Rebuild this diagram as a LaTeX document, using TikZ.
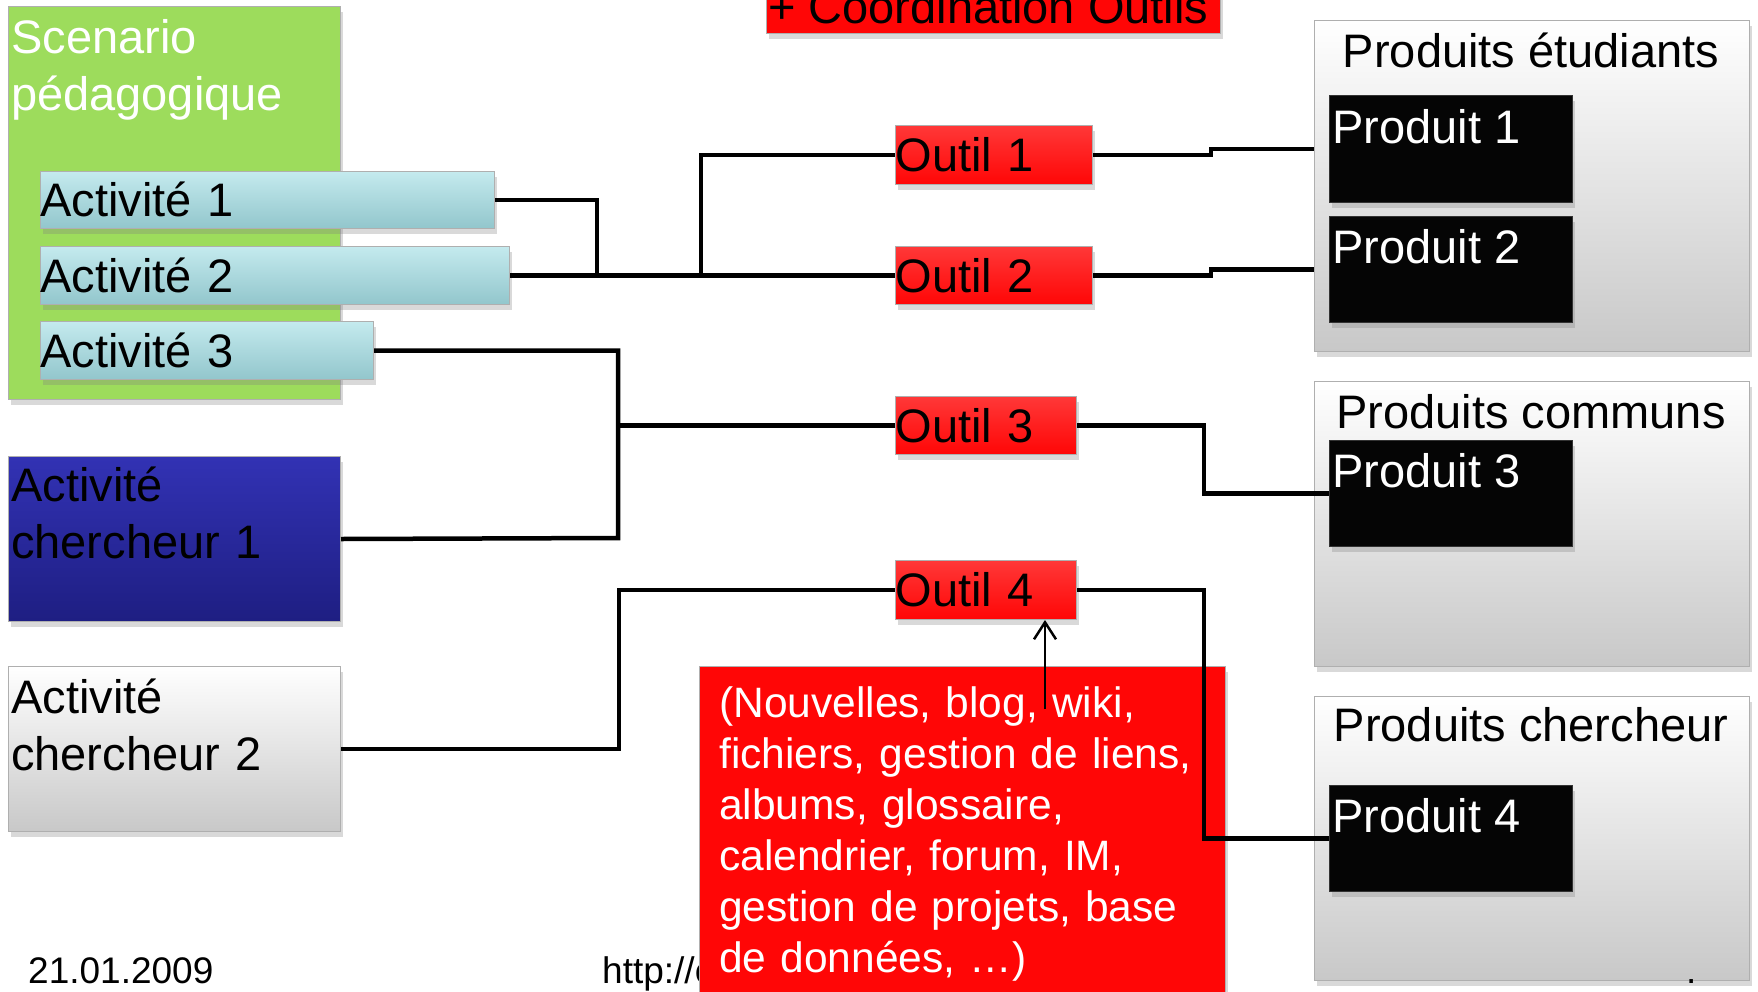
\documentclass[tikz,border=0pt]{standalone}
\usepackage{fontspec}
\setmainfont{Liberation Sans}
\usetikzlibrary{shadows,arrows.meta}
\definecolor{scengreen}{RGB}{157,220,92}
\definecolor{actlight}{RGB}{196,234,238}
\definecolor{actdark}{RGB}{146,198,204}
\definecolor{cherblue}{RGB}{50,50,180}
\definecolor{cherdark}{RGB}{30,30,130}
\definecolor{boxline}{RGB}{175,175,175}
\definecolor{greydark}{RGB}{200,200,200}
\definecolor{slidered}{RGB}{255,6,6}
\newcommand\slidefont{\fontsize{47}{57}\selectfont}
\newcommand\smallslide{\fontsize{37}{44}\selectfont}
\begin{document}
\begin{tikzpicture}[x=1pt,y=-1pt,
  box/.style={anchor=north west, inner sep=0pt, draw=boxline, line width=1pt,
    drop shadow={opacity=.3, shadow xshift=2pt, shadow yshift=-5pt}},
  actbox/.style={box, top color=actlight, bottom color=actdark, align=left,
    text height=33pt, text depth=0pt, font=\slidefont},
  outil/.style={box, top color=slidered!80!white, bottom color=slidered,
    align=left, text height=33pt, text depth=0pt, font=\slidefont},
  greybox/.style={box, top color=white, middle color=white!94!gray, bottom color=greydark},
  prod/.style={box, draw=black!80, fill=black!98},
  lbl/.style={inner sep=0pt, anchor=base west, font=\slidefont, align=left},
  wire/.style={line width=4.5pt}]
\clip (0,0) rectangle (1758,991);
% scenario + activites
\node[box, fill=scengreen, minimum width=332pt, minimum height=393pt] (scen) at (8,6) {};
\node[lbl, text=white, text width=320pt] (scen-t) at (11,53) {Scenario\\pédagogique};
\node[actbox, text width=454pt, minimum height=57pt] (a1) at (40,171) {Activité 1};
\node[actbox, text width=469pt, minimum height=58pt] (a2) at (40,246) {Activité 2};
\node[actbox, text width=333pt, minimum height=58pt] (a3) at (40,321) {Activité 3};
\node[box, top color=cherblue, bottom color=cherdark, minimum width=332pt, minimum height=165pt] (ac1) at (8,456) {};
\node[lbl, text width=320pt] (ac1-t) at (11,501) {Activité\\chercheur 1};
\node[greybox, minimum width=332pt, minimum height=165pt] (ac2) at (8,666) {};
\node[lbl, text width=320pt] (ac2-t) at (11,713) {Activité\\chercheur 2};
% outils
\node[box, fill=slidered, minimum width=454pt, minimum height=63pt] (titre) at (766,-30) {};
\node[lbl, font=\fontsize{47}{56}\selectfont] (titre-t) at (768,23) {+ Coordination Outils};
\node[outil, text width=197pt, minimum height=59pt] (o1) at (895,125) {Outil 1};
\node[outil, text width=197pt, minimum height=58pt] (o2) at (895,246) {Outil 2};
\node[outil, text width=181pt, minimum height=58pt] (o3) at (895,396) {Outil 3};
\node[outil, text width=181pt, minimum height=59pt] (o4) at (895,560) {Outil 4};
% produits
\node[greybox, minimum width=435pt, minimum height=331pt] (pe) at (1314,20) {};
\node[lbl, anchor=base] (pe-t) at (1531,67) {Produits étudiants};
\node[greybox, minimum width=435pt, minimum height=285pt] (pc) at (1314,381) {};
\node[lbl, anchor=base] (pc-t) at (1531,428) {Produits communs};
\node[greybox, minimum width=435pt, minimum height=284pt] (pch) at (1314,696) {};
\node[lbl, anchor=base] (pch-t) at (1531,741) {Produits chercheur};
\node[prod, minimum width=243pt, minimum height=107pt] (p1) at (1329,95) {};
\node[lbl, text=white] (p1-t) at (1332,143) {Produit 1};
\node[prod, minimum width=243pt, minimum height=106pt] (p2) at (1329,216) {};
\node[lbl, text=white] (p2-t) at (1332,263) {Produit 2};
\node[prod, minimum width=243pt, minimum height=106pt] (p3) at (1329,440) {};
\node[lbl, text=white] (p3-t) at (1332,487) {Produit 3};
\node[prod, minimum width=243pt, minimum height=106pt] (p4) at (1329,785) {};
\node[lbl, text=white] (p4-t) at (1332,832) {Produit 4};
% pied de page
\node[lbl, font=\smallslide] (date) at (28,983) {21.01.2009};
\node[lbl, font=\smallslide] (url) at (602,983) {http://e};
\node[lbl, font=\smallslide] (page) at (1686,983) {.};
% liste des outils
\node[box, fill=slidered, minimum width=526pt, minimum height=360pt] (desc) at (699,666) {};
\node[lbl, text=white, text width=500pt, font=\fontsize{42.5}{51}\selectfont] (desc-t) at (719,717)
  {(Nouvelles, blog, wiki,\\fichiers, gestion de liens,\\albums, glossaire,\\calendrier, forum, IM,\\gestion de projets, base\\de données, …)};
% liaisons
\coordinate (j1) at (597,275);
\coordinate (j2) at (701,275);
\coordinate (j3) at (618,538);
\draw[wire] (a1.east) -| (j1);
\draw[wire] (a2.east) -- (o2.west);
\draw[wire] (j2) |- (o1.west);
\draw[wire] (a3.east) -| (j3) -- (ac1.east);
\draw[wire] (o3.west) -- (o3.west -| j3);
\draw[wire] (ac2.east) -- ++(278,0) |- (o4.west);
\draw[wire] (o1.east) -- ++(118,0) |- (p1.west -| pe.west);
\draw[wire] (o2.east) -- ++(118,0) |- (p2.west -| pe.west);
\draw[wire] (o3.east) -- ++(127,0) |- (p3.west);
\draw[wire] (o4.east) -- ++(127,0) |- (p4.west);
\coordinate (src) at (1045,709);
\draw[-{Straight Barb[length=17pt,width=22pt]}, line width=2.5pt] (src) -- (src |- o4.south);
\end{tikzpicture}
\end{document}
